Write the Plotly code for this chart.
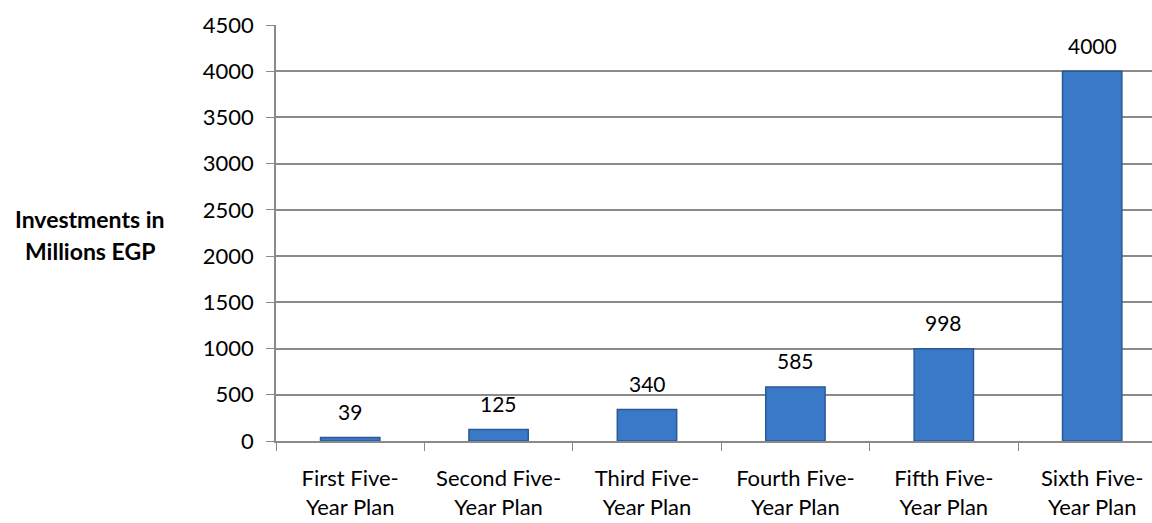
import plotly.graph_objects as go

categories = ["First Five-<br>Year Plan", "Second Five-<br>Year Plan", "Third Five-<br>Year Plan",
              "Fourth Five-<br>Year Plan", "Fifth Five-<br>Year Plan", "Sixth Five-<br>Year Plan"]
investments = [39, 125, 340, 585, 998, 4000]
y_ticks = [0, 500, 1000, 1500, 2000, 2500, 3000, 3500, 4000, 4500]

FONT = "Lato"
GRID = "#8a8a8a"

fig = go.Figure()
fig.add_trace(go.Bar(
    x=categories, y=investments,
    width=0.4,
    marker=dict(color="#3A78C8", line=dict(color="#2A5A96", width=1.5)),
    hoverinfo="x+y",
))

for c, v in zip(categories, investments):
    fig.add_annotation(x=c, y=v, text=str(v), showarrow=False, yanchor="middle",
                       yshift=26, font=dict(family=FONT, size=21, color="#000000"))

H_plot = 523 - 25 - 82
for txt, ypx in [("<b>Investments in</b>", 219), ("<b>Millions EGP</b>", 251)]:
    fig.add_annotation(
        xref="paper", yref="paper",
        x=(90 - 276) / (1152 - 276), y=(523 - 82 - ypx) / H_plot,
        xanchor="center", yanchor="middle", text=txt, showarrow=False,
        font=dict(family=FONT, size=23, color="#000000"),
    )

fig.update_layout(
    width=1152, height=523,
    margin=dict(l=276, r=0, t=25, b=82, autoexpand=False),
    paper_bgcolor="white", plot_bgcolor="white",
    showlegend=False,
    font=dict(family=FONT, size=21, color="#000000"),
    xaxis=dict(
        range=[-0.5, 5.403], showgrid=False, automargin=False,
        showline=True, linecolor=GRID, linewidth=1.5,
        ticks="outside", ticklen=8, tickcolor=GRID, tickson="boundaries",
        tickfont=dict(family=FONT, size=22), ticklabelstandoff=17, fixedrange=True,
    ),
    yaxis=dict(
        range=[0, 4500], tickvals=y_ticks, showgrid=True, gridcolor=GRID, gridwidth=1.5,
        showline=True, linecolor=GRID, linewidth=1.5, automargin=False,
        ticks="outside", ticklen=8, tickcolor=GRID, ticklabelstandoff=8,
        tickfont=dict(family=FONT, size=22), zeroline=False,
    ),
)

fig.write_html("out.html")
